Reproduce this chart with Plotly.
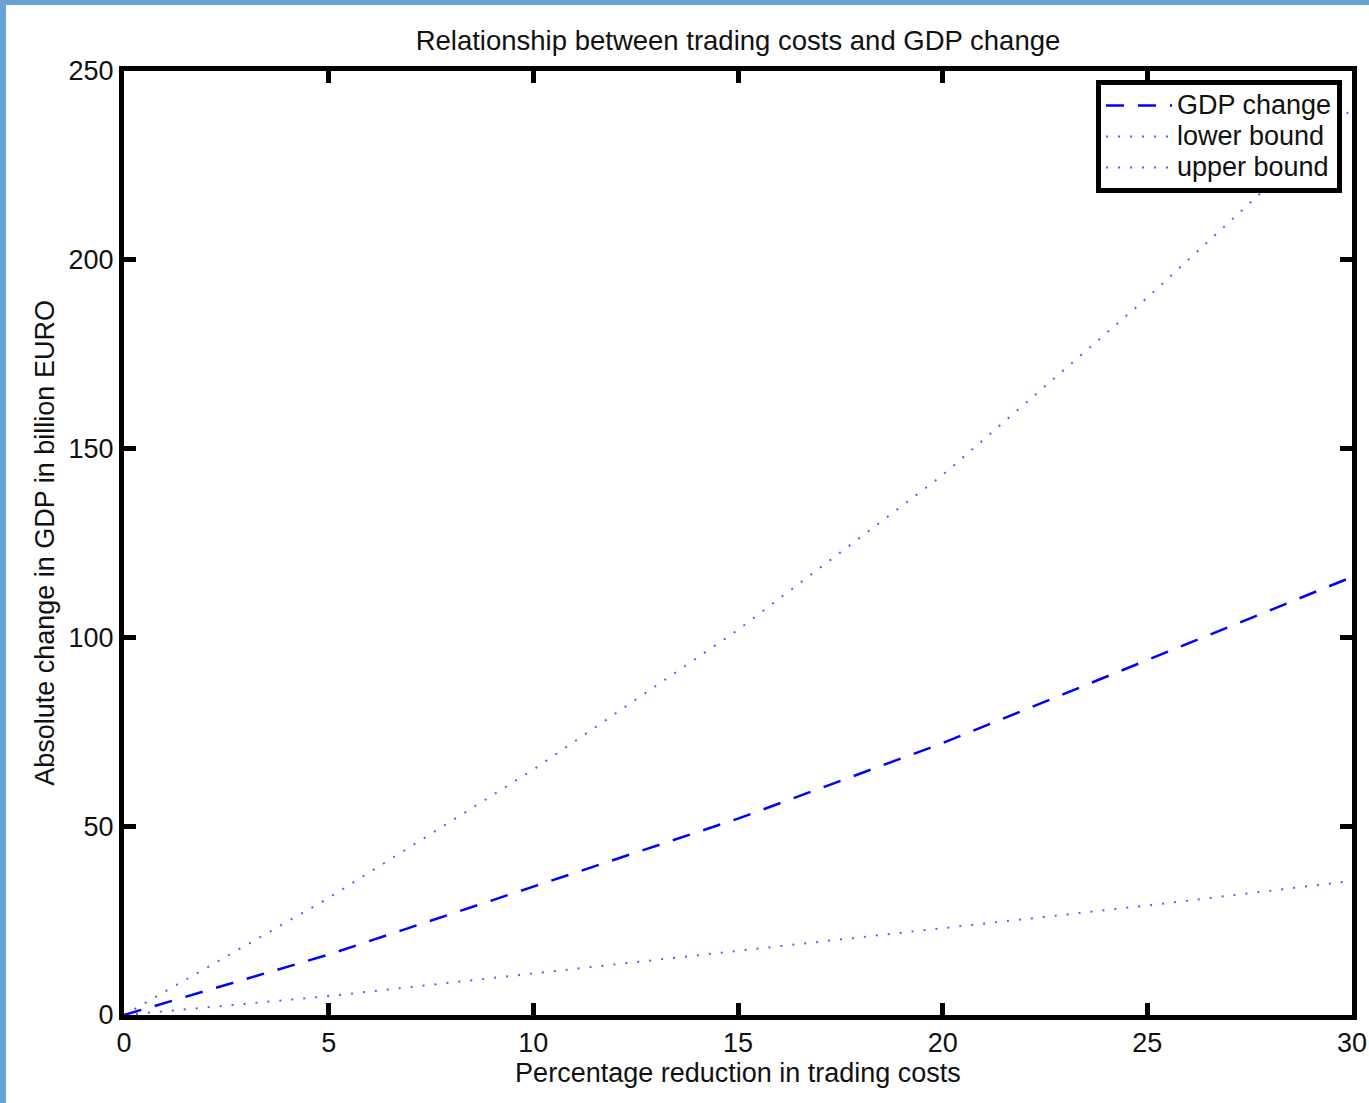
import plotly.graph_objects as go

# ---- data ----
reduction_pct = [0, 5, 10, 15, 20, 25, 30]
gdp_change = [0, 16, 34, 52, 72, 94, 116]
lower_bound = [0, 5, 11, 17, 23, 29, 35.5]
upper_bound = [0, 31, 65, 102, 143, 190, 240]

series_names = ["GDP change", "lower bound", "upper bound"]
x_ticks = [0, 5, 10, 15, 20, 25, 30]
y_ticks = [0, 50, 100, 150, 200, 250]

W, H = 1369, 1103
ML, MR, MT, MB = 124, 17, 71, 88
pw, ph = W - ML - MR, H - MT - MB

FONT = "Liberation Sans, Arial, sans-serif"
BLUE = "#0000ff"
DOT_BLUE = "rgba(0,0,255,0.65)"


def legend_name(s):
    return '<span style="font-size:27px">' + s + "</span>"


fig = go.Figure()
fig.add_trace(go.Scatter(x=reduction_pct, y=gdp_change, mode="lines", name=legend_name(series_names[0]),
                         line=dict(color=BLUE, width=2.5, dash="18px,14px")))
fig.add_trace(go.Scatter(x=reduction_pct, y=lower_bound, mode="lines", name=legend_name(series_names[1]),
                         line=dict(color=DOT_BLUE, width=2, dash="2px,10px")))
fig.add_trace(go.Scatter(x=reduction_pct, y=upper_bound, mode="lines", name=legend_name(series_names[2]),
                         line=dict(color=DOT_BLUE, width=2, dash="2px,10px")))

axis_common = dict(showline=True, linewidth=5, linecolor="black", mirror="ticks",
                   ticks="inside", ticklen=12, tickwidth=5, tickcolor="black",
                   showgrid=False, zeroline=False, automargin=False,
                   tickfont=dict(family=FONT, size=27, color="#111"))

fig.update_xaxes(range=[0, 30], tickvals=x_ticks, ticktext=[str(v) for v in x_ticks],
                 title=dict(text="Percentage reduction in trading costs",
                            font=dict(family=FONT, size=27, color="#111"), standoff=6),
                 **axis_common)
fig.update_yaxes(range=[0, 250], tickvals=y_ticks, ticktext=[str(v) for v in y_ticks],
                 title=dict(text="Absolute change in GDP in billion EURO",
                            font=dict(family=FONT, size=27, color="#111"), standoff=8),
                 **axis_common)


def px2x(px):
    return (px - ML) / pw


def py2y(py):
    return (H - MB - py) / ph


border = "#6aa3d5"
fig.add_shape(type="rect", xref="paper", yref="paper", x0=px2x(0), x1=px2x(6),
              y0=py2y(H), y1=py2y(0), fillcolor=border, line=dict(width=0), layer="above")
fig.add_shape(type="rect", xref="paper", yref="paper", x0=px2x(0), x1=px2x(W),
              y0=py2y(5), y1=py2y(0), fillcolor=border, line=dict(width=0), layer="above")

fig.update_layout(
    width=W, height=H, autosize=False,
    margin=dict(l=ML, r=MR, t=MT, b=MB),
    paper_bgcolor="white", plot_bgcolor="white",
    title=dict(text="Relationship between trading costs and GDP change",
               font=dict(family=FONT, size=27.5, color="#111"),
               x=0.5, xref="paper", xanchor="center", y=1 - 40 / H, yref="container", yanchor="middle"),
    legend=dict(x=px2x(1342), y=py2y(80), xanchor="right", yanchor="top",
                bgcolor="white", bordercolor="black", borderwidth=5,
                font=dict(family=FONT, size=21.5, color="#111"), itemwidth=66),
    showlegend=True,
)

fig.write_html("out.html",
               config={"displayModeBar": False, "responsive": False},
               post_script="document.body.style.margin='0';document.body.style.overflow='hidden';")
